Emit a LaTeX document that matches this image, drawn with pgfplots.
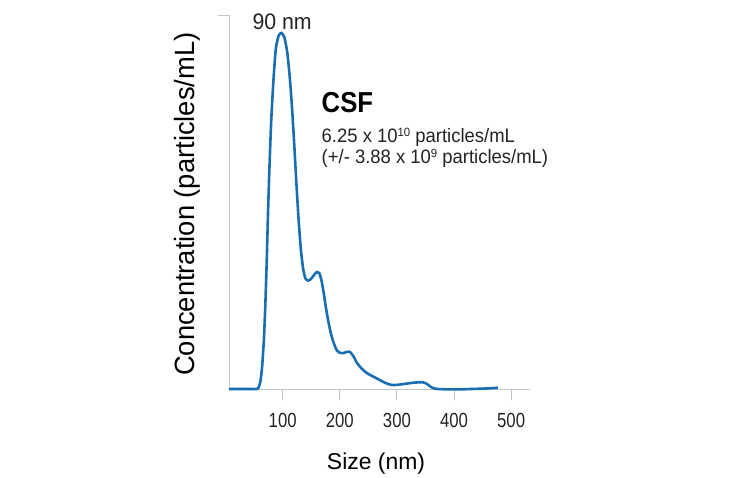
\documentclass[border=0pt]{standalone}
\usepackage{fontspec}
\setmainfont{Liberation Sans}[FakeStretch=0.95]
\newfontfamily\tickfont{Liberation Sans}[FakeStretch=0.82]
\newfontfamily\ylabfont{Liberation Sans}[FakeStretch=0.98]
\newfontfamily\xlabfont{Liberation Sans}[FakeStretch=1.0]
\newfontfamily\csffont{Liberation Sans}[FakeStretch=0.89]
\newcommand{\mysup}[1]{\raisebox{5.4bp}{\fontsize{12}{12}\selectfont #1}}
\usepackage{pgfplots}
\pgfplotsset{compat=1.18}
\definecolor{curve}{RGB}{25,110,178}
\definecolor{axgray}{RGB}{195,195,195}
\definecolor{txt}{RGB}{35,35,35}
\begin{document}
\begin{tikzpicture}
\useasboundingbox (-229bp,-89bp) rectangle (501bp,389bp);
\begin{axis}[
  at={(0,0)}, anchor=south west,
  scale only axis, width=301bp, height=374bp,
  xmin=6, xmax=533, ymin=0, ymax=1,
  axis x line*=bottom, axis y line*=left,
  axis line style={axgray, line width=0.9pt},
  every tick/.style={axgray, line width=0.9pt},
  tick align=outside, major tick length=11bp,
  xtick={100,200,300,400,500},
  ytick={1}, yticklabels={},
  /pgf/number format/assume math mode=true,
  ticklabel style={font=\tickfont\fontsize{20.5}{23}\selectfont, text=txt},
  xticklabel style={yshift=-10bp},
  clip=false,
]
\addplot[curve, line width=2.6bp, smooth, tension=0.4] coordinates {
(6,0) (40,0) (55,0) (57.5,0.003) (61,0.02) (64,0.06) (67,0.13) (69.5,0.22)
(72,0.34) (74.5,0.48) (77,0.6) (80,0.72) (84,0.83) (88,0.91) (93,0.945)
(98,0.952) (103,0.94) (108,0.9) (112,0.84) (116,0.76) (120,0.66) (124,0.55)
(128,0.45) (132,0.37) (136,0.32) (140,0.295) (145,0.29) (150,0.295)
(155,0.305) (160,0.313) (164,0.31) (168,0.29) (172,0.255) (176,0.215)
(180,0.18) (185,0.145) (190,0.12) (195,0.103) (200,0.097) (206,0.096)
(212,0.099) (218,0.099) (224,0.087) (230,0.07) (238,0.055) (248,0.042)
(260,0.032) (270,0.024) (280,0.016) (290,0.011) (300,0.011) (315,0.014)
(330,0.017) (345,0.018) (352,0.014) (358,0.007) (364,0.002) (372,0.0)
(390,-0.001) (410,-0.001) (430,0.0) (450,0.001) (465,0.002) (477,0.0035)
};
\path (axis description cs:0,0.493) ++(-31bp,0) node[rotate=90, anchor=base, inner sep=0pt, font=\ylabfont\fontsize{28}{32}\selectfont] {Concentration (particles/mL)};
\path (axis description cs:0.485,0) ++(1bp,-80bp) node[anchor=base, inner sep=0pt, font=\xlabfont\fontsize{23}{26}\selectfont] {Size (nm)};
\node[font=\fontsize{22.5}{26}\selectfont, text=txt, anchor=base, inner sep=0pt] at (axis cs:99,0.962) {90 nm};
\node[font=\csffont\bfseries\fontsize{29}{32}\selectfont, anchor=base west, inner sep=0pt] at (axis cs:168,0.738) {CSF};
\node[font=\fontsize{19.5}{22}\selectfont, text=txt, anchor=base west, inner sep=0pt] at (axis cs:168,0.660) {6.25 x 10\mysup{10} particles/mL};
\node[font=\fontsize{19.5}{22}\selectfont, text=txt, anchor=base west, inner sep=0pt] at (axis cs:168,0.604) {(+/- 3.88 x 10\mysup{9} particles/mL)};
\end{axis}
\end{tikzpicture}
\end{document}
